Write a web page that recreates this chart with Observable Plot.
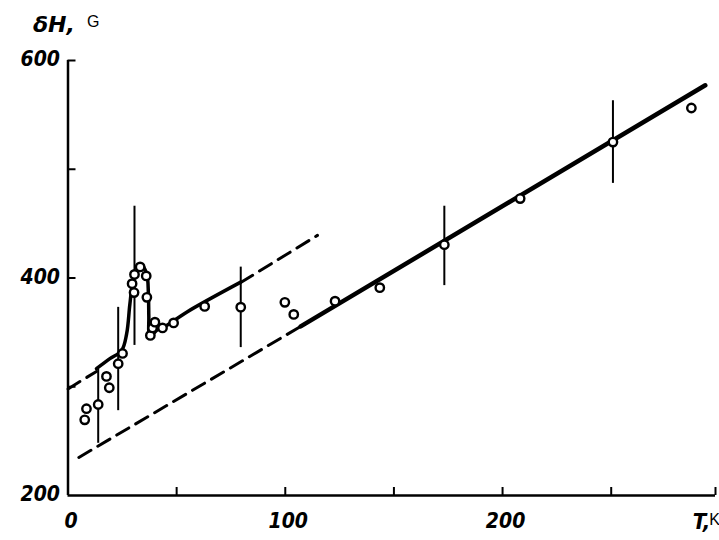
<!DOCTYPE html>
<html>
<head>
<meta charset="utf-8">
<script src="https://cdn.jsdelivr.net/npm/d3@7"></script>
<script src="https://cdn.jsdelivr.net/npm/@observablehq/plot@0.6"></script>
<style>
  html, body { margin: 0; padding: 0; background: #fff; }
  #chart { width: 719px; height: 540px; }
</style>
</head>
<body>
<div id="chart"></div>
<script>
// Measured points (T in K, δH in G)
const pointT = [7.7, 8.5, 13.9, 17.7, 19.0, 23.1, 25.1, 29.5, 30.4, 30.6, 33.2, 36.0, 36.3, 37.9, 38.9, 40.0, 43.5, 48.6, 62.9, 79.5, 99.8, 103.9, 122.9, 143.5, 173.2, 208.1, 250.8, 286.9];
const pointH = [269.6, 279.8, 283.7, 309.5, 299.1, 321.2, 330.6, 394.8, 386.6, 403.3, 410.2, 401.9, 382.2, 347.2, 354.1, 359.4, 354.1, 358.7, 373.9, 373.2, 377.6, 366.5, 378.7, 391.1, 430.6, 473.0, 525.0, 556.3];

// Error bars
const errT = [13.9, 23.1, 30.6, 79.5, 173.2, 250.8];
const errLo = [248, 278, 338, 336, 393, 487];
const errHi = [316, 373, 466, 410, 466, 563];

// Solid curve through the anomaly
const curveT = [13.1, 19.3, 24.7, 27.0, 28.5, 30.0, 32.4, 33.9, 36.2, 37.0, 37.2, 37.5, 38.5, 40.8, 45.4, 54.6, 79.5];
const curveH = [316.6, 325.8, 333.4, 348.8, 376.4, 397.8, 408.6, 411.6, 404.0, 385.6, 364.0, 347.2, 347.2, 351.8, 356.4, 368.6, 396.2];

// Upper dashed line (two visible segments)
const upperDashT = [[0, 13.1], [79.5, 114.8]];
const upperDashH = [[298, 314.1], [395.8, 439.2]];

// Lower line: dashed part then solid part
const lowerDashT = [5, 107.1];
const lowerDashH = [235, 355.5];
const lowerSolidT = [107.1, 293.3];
const lowerSolidH = [355.5, 577.2];

// Axes
const xTickMarks = [50, 100, 150, 200, 250, 298];
const xTickLabels = [0, 100, 200];
const yTickMarks = [300, 400, 500, 600];
const yTickLabels = [200, 400, 600];
const xMax = 298;

const W = 719, H = 540, mL = 67.5, mR = 4, mT = 60, mB = 45;
const frameW = W - mL - mR, frameH = H - mT - mB, tickLen = 8;

const pts = pointT.map((t, i) => ({T: t, H: pointH[i]}));
const errs = errT.map((t, i) => ({T: t, lo: errLo[i], hi: errHi[i]}));
const curve = curveT.map((t, i) => ({T: t, H: curveH[i]}));
const upper = upperDashT.flatMap((seg, s) => seg.map((t, i) => ({T: t, H: upperDashH[s][i], s})));
const lowerDash = lowerDashT.map((t, i) => ({T: t, H: lowerDashH[i]}));
const lowerSolid = lowerSolidT.map((t, i) => ({T: t, H: lowerSolidH[i]}));

const numFont = "'Liberation Sans Narrow', 'DejaVu Sans Condensed', sans-serif";

const chart = Plot.plot({
  width: W,
  height: H,
  marginLeft: mL,
  marginRight: mR,
  marginTop: mT,
  marginBottom: mB,
  x: {type: "linear", domain: [0, xMax], axis: null},
  y: {type: "linear", domain: [200, 600], axis: null},
  style: {background: "#fff", overflow: "visible"},
  marks: [
    // axis lines
    Plot.ruleY([200], {stroke: "#000", strokeWidth: 2.5}),
    Plot.ruleX([0], {stroke: "#000", strokeWidth: 2.5}),
    // inward ticks
    Plot.tickX(xTickMarks, {x: d => d, stroke: "#000", strokeWidth: 2, insetTop: frameH - tickLen}),
    Plot.tickY(yTickMarks, {y: d => d, stroke: "#000", strokeWidth: 2, insetRight: frameW - tickLen}),
    // tick labels
    Plot.text(xTickLabels, {x: d => d, y: 200, text: d => String(d), dy: 26, dx: 3, fontSize: 21, fontStyle: "italic", fontWeight: "bold", fontFamily: numFont, fill: "#000"}),
    Plot.text(yTickLabels, {y: d => d, x: 0, text: d => String(d), dx: -8, dy: -1, textAnchor: "end", fontSize: 21, fontStyle: "italic", fontWeight: "bold", fontFamily: numFont, fill: "#000"}),
    Plot.text(["T,"], {x: xMax, y: 200, dx: -14, dy: 26, fontSize: 22, fontStyle: "italic", fontWeight: "bold", fontFamily: numFont, fill: "#000"}),
    Plot.text(["K"], {x: xMax, y: 200, dx: -1, dy: 24, fontSize: 16, fontFamily: "'Liberation Sans', sans-serif", fill: "#000"}),
    // axis title
    Plot.text(["δH,"], {frameAnchor: "top-left", dx: -35, dy: -44, textAnchor: "start", fontSize: 22, fontStyle: "italic", fontWeight: "bold", fontFamily: "'DejaVu Sans', sans-serif", fill: "#000"}),
    Plot.text(["G"], {frameAnchor: "top-left", dx: 19, dy: -45, textAnchor: "start", fontSize: 16, fontFamily: "'Liberation Sans', sans-serif", fill: "#000"}),
    // dashed lines
    Plot.line(upper, {x: "T", y: "H", z: "s", stroke: "#000", strokeWidth: 3, strokeDasharray: "14,8"}),
    Plot.line(lowerDash, {x: "T", y: "H", stroke: "#000", strokeWidth: 3, strokeDasharray: "14,8"}),
    // solid lines
    Plot.line(lowerSolid, {x: "T", y: "H", stroke: "#000", strokeWidth: 4.5}),
    Plot.line(curve, {x: "T", y: "H", stroke: "#000", strokeWidth: 3.5, curve: "catmull-rom"}),
    // error bars
    Plot.ruleX(errs, {x: "T", y1: "lo", y2: "hi", stroke: "#000", strokeWidth: 2}),
    // points
    Plot.dot(pts, {x: "T", y: "H", r: 4.2, fill: "#fff", stroke: "#000", strokeWidth: 2.4})
  ]
});
document.getElementById("chart").appendChild(chart);
</script>
</body>
</html>
